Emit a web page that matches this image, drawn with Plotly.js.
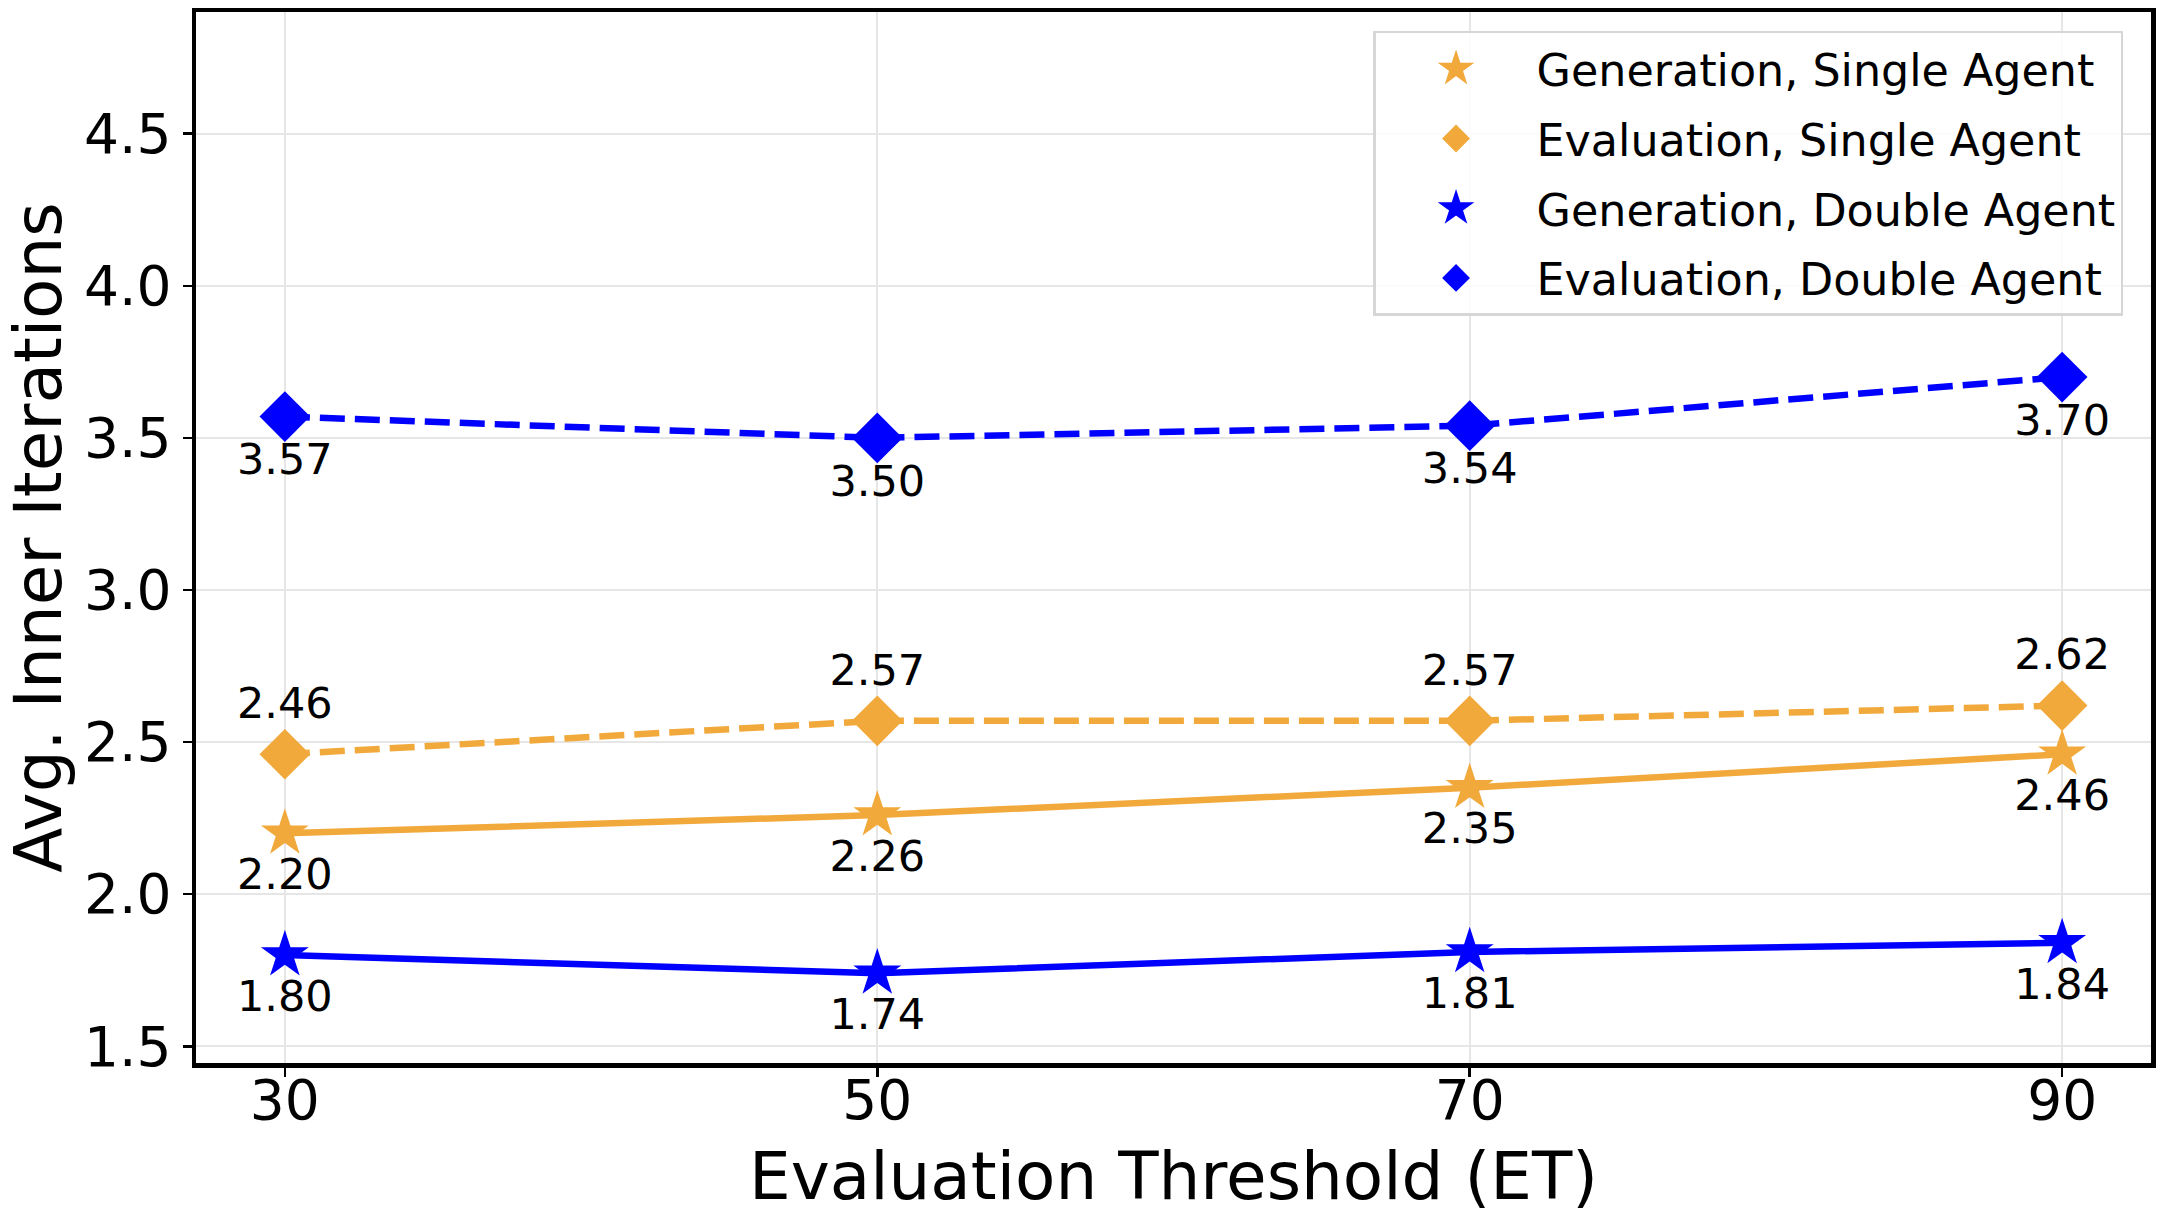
<!DOCTYPE html>
<html>
<head>
<meta charset="utf-8">
<script src="https://cdn.plot.ly/plotly-3.0.1.min.js"></script>
<style>html,body{margin:0;padding:0;background:#fff;}#chart{width:2168px;height:1222px;}</style>
</head>
<body>
<div id="chart"></div>
<script>
const thresholds = [30, 50, 70, 90];
const genSingle = [2.20, 2.26, 2.35, 2.46];
const evalSingle = [2.46, 2.57, 2.57, 2.62];
const genDouble = [1.80, 1.74, 1.81, 1.84];
const evalDouble = [3.57, 3.50, 3.54, 3.70];
const seriesNames = ['Generation, Single Agent', 'Evaluation, Single Agent', 'Generation, Double Agent', 'Evaluation, Double Agent'];
const yTicks = [1.5, 2.0, 2.5, 3.0, 3.5, 4.0, 4.5];

const ORANGE = '#F2A93B';
const BLUE = '#0000FF';
const FONT = 'DejaVu Sans, sans-serif';

function series(y, name, color, symbol, size, dash, textpos) {
  return {
    x: thresholds, y: y, name: name, type: 'scatter', mode: 'lines+markers+text',
    line: {color: color, width: 6.5, dash: dash},
    marker: {color: color, symbol: symbol, size: size},
    text: y.map(v => v.toFixed(2)), textposition: textpos,
    textfont: {family: FONT, size: 43, color: '#000'},
    showlegend: false, cliponaxis: false, hoverinfo: 'x+y'
  };
}
function legendEntry(name, color, symbol, group) {
  return {x: [null], y: [null], name: name, type: 'scatter', mode: 'markers',
    marker: {color: color, symbol: symbol, size: 40, line: {color: color, width: 5}},
    showlegend: true, legendgroup: group};
}

const data = [
  series(genSingle, seriesNames[0], ORANGE, 'star', 36, 'solid', 'bottom center'),
  series(evalSingle, seriesNames[1], ORANGE, 'diamond', 39, '25px,10px', 'top center'),
  series(genDouble, seriesNames[2], BLUE, 'star', 36, 'solid', 'bottom center'),
  series(evalDouble, seriesNames[3], BLUE, 'diamond', 39, '25px,10px', 'bottom center'),
  legendEntry(seriesNames[0], ORANGE, 'star', 'a'),
  legendEntry(seriesNames[1], ORANGE, 'diamond', 'b'),
  legendEntry(seriesNames[2], BLUE, 'star', 'c'),
  legendEntry(seriesNames[3], BLUE, 'diamond', 'd')
];

const layout = {
  width: 2168, height: 1222,
  margin: {l: 196, r: 17, t: 12, b: 159, pad: 0},
  paper_bgcolor: '#fff', plot_bgcolor: '#fff',
  font: {family: FONT, color: '#000'},
  xaxis: {
    range: [27, 93], tickvals: thresholds, ticktext: thresholds.map(String),
    showgrid: true, gridcolor: '#e6e6e6', gridwidth: 2,
    showline: true, linecolor: '#000', linewidth: 4.5, mirror: true,
    ticks: 'outside', ticklen: 9, tickwidth: 2.5, tickcolor: '#000',
    tickfont: {family: FONT, size: 55}, zeroline: false, ticklabelstandoff: -24,
    title: {text: 'Evaluation Threshold (ET)', font: {family: FONT, size: 66}, standoff: 24}
  },
  yaxis: {
    range: [1.445, 4.9], tickvals: yTicks, ticktext: yTicks.map(v => v.toFixed(1)),
    showgrid: true, gridcolor: '#e6e6e6', gridwidth: 2,
    showline: true, linecolor: '#000', linewidth: 4.5, mirror: true,
    ticks: 'outside', ticklen: 9, tickwidth: 2.5, tickcolor: '#000',
    tickfont: {family: FONT, size: 55}, zeroline: false, ticklabelstandoff: 0,
    title: {text: 'Avg. Inner Iterations', font: {family: FONT, size: 66}, standoff: 28}
  },
  legend: {
    x: 0.9857, y: 0.982, xanchor: 'right', yanchor: 'top',
    bgcolor: 'rgba(255,255,255,0.85)', bordercolor: '#d6d6d6', borderwidth: 2.5,
    font: {family: FONT, size: 44.4, color: '#000'},
    itemwidth: 151, traceorder: 'grouped', tracegroupgap: 9
  },
  showlegend: true
};

Plotly.newPlot('chart', data, layout, {displayModeBar: false, staticPlot: true});
</script>
</body>
</html>
